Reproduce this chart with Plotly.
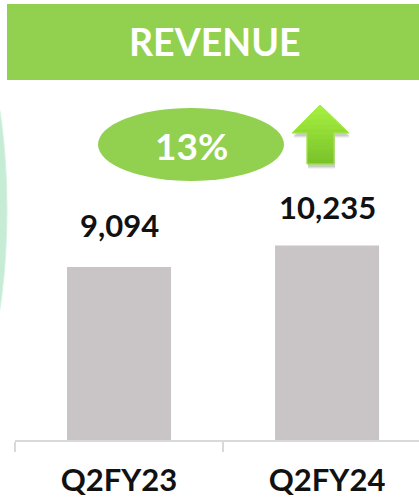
import plotly.graph_objects as go

categories = ["Q2FY23", "Q2FY24"]
revenue = [9094, 10235]
value_labels = ["9,094", "10,235"]
growth_label = "13%"
title_text = "REVENUE"

W, H = 419, 500
L, R, T, B = 15, 0, 90, 60
PW, PH = W - L - R, H - T - B

def px(x):
    return (x - L) / PW

def py(y):
    return (H - B - y) / PH

GREEN = "#92D050"
BAR = "#C9C4C6"
FONT = "Lato"

fig = go.Figure()
fig.add_trace(go.Bar(
    x=categories, y=revenue, marker=dict(color=BAR, line=dict(width=0)),
    width=0.5, hoverinfo="skip",
))

label_shift = [21, 17]
for c, v, t, s in zip(categories, revenue, value_labels, label_shift):
    fig.add_annotation(x=c, y=v, text=t, showarrow=False, yanchor="bottom", xanchor="center",
                       yshift=s, font=dict(family=FONT, size=31, color="#111111", weight="bold"))

shapes = []
# banner
shapes.append(dict(type="rect", xref="paper", yref="paper", x0=px(7), x1=px(419),
                   y0=py(80), y1=py(4), fillcolor=GREEN, line=dict(width=0), layer="below"))
# left decorative arc
shapes.append(dict(type="circle", xref="paper", yref="paper", x0=px(-137), x1=px(7),
                   y0=py(440), y1=py(-20), fillcolor="#C6ECD6",
                   line=dict(color="#D4F2E1", width=1)))
# ellipse
shapes.append(dict(type="circle", xref="paper", yref="paper", x0=px(98), x1=px(284),
                   y0=py(181), y1=py(108), fillcolor=GREEN, line=dict(width=0)))

# arrow geometry (pixel space)
TIPX, TIPY, HEADY, HL, HR, SL, SR, BOT = 320, 105, 133, 292, 349, 307, 334, 164

def poly(pts, dx=0, dy=0):
    return "M " + " L ".join(f"{px(x+dx)},{py(y+dy)}" for x, y in pts) + " Z"

full = [(TIPX, TIPY), (HR, HEADY), (SR, HEADY), (SR, BOT), (SL, BOT), (SL, HEADY), (HL, HEADY)]
# soft shadow
for k, a in [(5, 0.05), (4, 0.07), (3, 0.09)]:
    shapes.append(dict(type="path", xref="paper", yref="paper", path=poly(full, 1, k),
                       fillcolor=f"rgba(0,0,0,{a})", line=dict(width=0)))

def lerp(c1, c2, t):
    return "#" + "".join(f"{round(a + (b - a) * t):02x}" for a, b in zip(c1, c2))

TOP_C, BOT_C = (0xA8, 0xF2, 0x40), (0x78, 0xC2, 0x28)
n = 12
for i in range(n):
    ya = TIPY + (BOT - TIPY) * i / n
    yb = TIPY + (BOT - TIPY) * (i + 1) / n
    col = lerp(TOP_C, BOT_C, (i + 0.5) / n)
    def xs(y):
        if y <= HEADY:
            f = (y - TIPY) / (HEADY - TIPY)
            return TIPX + (HL - TIPX) * f, TIPX + (HR - TIPX) * f
        return SL, SR
    if yb <= HEADY or ya >= HEADY:
        la, ra = xs(ya); lb, rb = xs(yb)
        pts = [(la, ya), (ra, ya), (rb, yb), (lb, yb)]
    else:
        la, ra = xs(ya)
        pts = [(la, ya), (ra, ya), (HR, HEADY), (SR, HEADY), (SR, yb), (SL, yb), (SL, HEADY), (HL, HEADY)]
    shapes.append(dict(type="path", xref="paper", yref="paper", path=poly(pts),
                       fillcolor=col, line=dict(color=col, width=0.6)))
shapes.append(dict(type="path", xref="paper", yref="paper", path=poly(full),
                   fillcolor="rgba(0,0,0,0)", line=dict(color="#A6EC48", width=1)))
fig.update_layout(shapes=shapes)

fig.add_annotation(xref="paper", yref="paper", x=px(215), y=py(42), text=title_text,
                   xanchor="center", yanchor="middle",
                   showarrow=False, font=dict(family=FONT, size=37.5, color="white", weight="bold"))
fig.add_annotation(xref="paper", yref="paper", x=px(191), y=py(145), text=growth_label,
                   xanchor="center", yanchor="middle",
                   showarrow=False, font=dict(family=FONT, size=37, color="white", weight="bold"))

fig.update_layout(
    width=W, height=H, margin=dict(l=L, r=R, t=T, b=B, autoexpand=False),
    paper_bgcolor="white", plot_bgcolor="white", showlegend=False,
    xaxis=dict(range=[-0.5, 1.442], showline=True, linecolor="#D9D9D9", linewidth=1.5,
               ticks="outside", tickson="boundaries", ticklen=10, tickcolor="#D9D9D9",
               tickwidth=1.5, showgrid=False, zeroline=False, automargin=False,
               ticklabelstandoff=12,
               tickfont=dict(family=FONT, size=31, color="#111111", weight="bold")),
    yaxis=dict(range=[0, 18410], visible=False, showgrid=False, zeroline=False),
)

fig.write_html("out.html", config=dict(displayModeBar=False, staticPlot=True),
               post_script="document.body.style.margin='0';document.body.style.overflow='hidden';")
